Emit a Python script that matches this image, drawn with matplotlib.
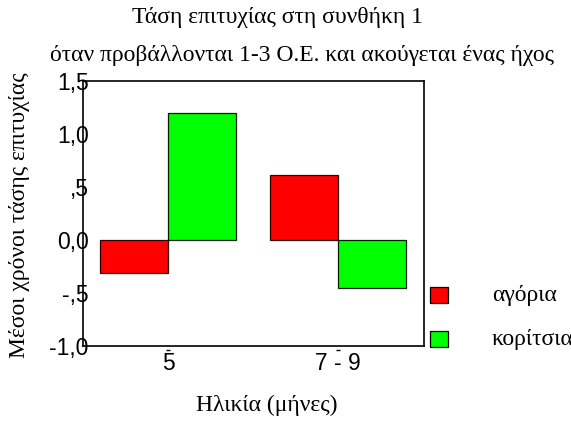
import matplotlib
matplotlib.use("Agg")
import matplotlib.pyplot as plt
import numpy as np

categories = ["5", "7 - 9"]
boys = [-0.31, 0.61]
girls = [1.195, -0.455]
series_names = ["αγόρια", "κορίτσια"]
yticks = [-1.0, -0.5, 0.0, 0.5, 1.0, 1.5]
ytick_labels = ["-1,0", "-,5", "0,0", ",5", "1,0", "1,5"]

W, H = 571, 421
fig = plt.figure(figsize=(W / 100, H / 100), dpi=100)
ax = fig.add_axes([83 / W, 1 - 346 / H, 341 / W, (346 - 81) / H])

x = np.arange(len(categories))
w = 0.4
b1 = ax.bar(x - w / 2, boys, w, color="#ff0000", edgecolor="#300000", linewidth=0.9, label=series_names[0])
b2 = ax.bar(x + w / 2, girls, w, color="#00ff00", edgecolor="#002000", linewidth=0.9, label=series_names[1])

ax.set_xlim(-0.5, 1.506)
ax.set_ylim(-1.0, 1.5)
ax.set_yticks(yticks)
ax.set_yticklabels(ytick_labels, fontfamily="Liberation Sans", fontsize=16.5)
ax.set_xticks(x)
ax.set_xticklabels(categories, fontfamily="Liberation Sans", fontsize=16.5)
ax.tick_params(axis="y", length=0, pad=-4)
ax.tick_params(axis="x", length=0, pad=4)
# small detached tick marks below the axis
ax.plot(x, [-0.016] * len(x), linestyle="none", marker="_", markersize=3, color="black",
        transform=ax.get_xaxis_transform(), clip_on=False)
for s in ax.spines.values():
    s.set_linewidth(1.2)

serif = "Liberation Serif"
fs = 17
fig.text(277 / W, 1 - 17 / H, "Τάση επιτυχίας στη συνθήκη 1", ha="center", va="center",
         fontfamily=serif, fontsize=fs)
fig.text(302 / W, 1 - 55 / H, "όταν προβάλλονται 1-3 Ο.Ε. και ακούγεται ένας ήχος", ha="center", va="center",
         fontfamily=serif, fontsize=fs)
fig.text(20 / W, 1 - 215 / H, "Μέσοι χρόνοι τάσης επιτυχίας", ha="center", va="center", rotation=90,
         fontfamily=serif, fontsize=fs)
fig.text(267 / W, 1 - 405 / H, "Ηλικία (μήνες)", ha="center", va="center",
         fontfamily=serif, fontsize=fs)

# legend
legend_y = [295, 339]
for bar, name, yc in zip([b1, b2], series_names, legend_y):
    fig.patches.append(plt.Rectangle((430 / W, 1 - (yc + 8) / H), 18 / W, 16 / H,
                                     transform=fig.transFigure, facecolor=bar.patches[0].get_facecolor(),
                                     edgecolor="black", linewidth=0.9))
    fig.text(492 / W, 1 - yc / H, name, ha="left", va="center", fontfamily=serif, fontsize=fs)

fig.savefig("out.png", dpi=100)
